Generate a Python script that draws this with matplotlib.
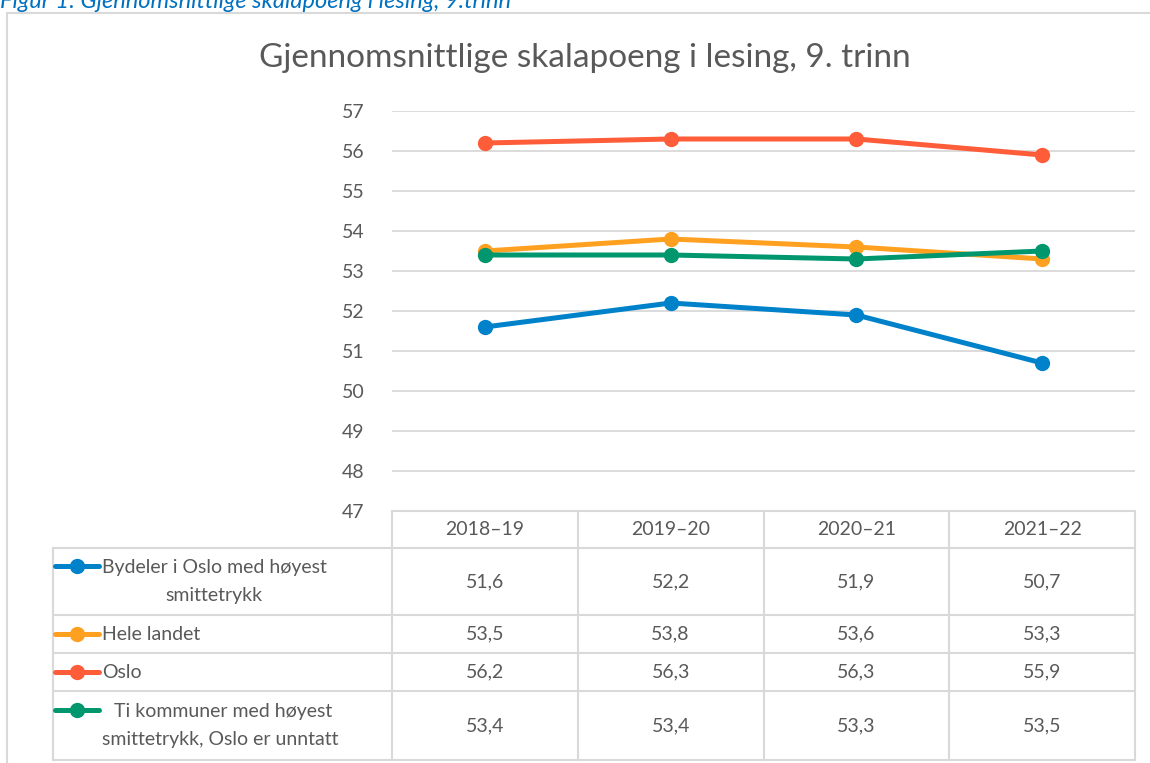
import matplotlib.pyplot as plt
from matplotlib.lines import Line2D
from matplotlib.patches import Rectangle

plt.rcParams['font.family'] = ['Lato', 'DejaVu Sans']

# data
years = ['2018–19', '2019–20', '2020–21', '2021–22']
series = [
    'Bydeler i Oslo med høyest\nsmittetrykk',
    'Hele landet',
    'Oslo',
    ' Ti kommuner med høyest\nsmittetrykk, Oslo er unntatt',
]
bydeler = [51.6, 52.2, 51.9, 50.7]
hele_landet = [53.5, 53.8, 53.6, 53.3]
oslo = [56.2, 56.3, 56.3, 55.9]
ti_kommuner = [53.4, 53.4, 53.3, 53.5]
values = [bydeler, hele_landet, oslo, ti_kommuner]
colors = ['#0082CA', '#FFA021', '#FF5C39', '#00976F']

W, H = 1150, 763
TXT = '#595959'
GRID = '#D9D9D9'


def fx(x):
    return x / W


def fy(y):
    return 1 - y / H


fig = plt.figure(figsize=(W / 100, H / 100), dpi=100)

# caption above the chart box (cut off at the top in the original)
fig.text(fx(0), fy(2), 'Figur 1: Gjennomsnittlige skalapoeng i lesing, 9.trinn',
         color='#0070C0', style='italic', fontsize=17, ha='left', va='center')

# chart border
fig.add_artist(Rectangle((fx(7), fy(800)), fx(1160), fy(13) - fy(800),
                         transform=fig.transFigure, fill=False, ec=GRID, lw=1.5))

fig.text(fx(585), fy(58), 'Gjennomsnittlige skalapoeng i lesing, 9. trinn',
         color=TXT, fontsize=24, ha='center', va='center')

left, right, top, bottom = 392, 1135, 111, 511
ax = fig.add_axes([fx(left), fy(bottom), fx(right - left), fy(top) - fy(bottom)])
x = list(range(len(years)))
for vals, c in zip(values, colors):
    ax.plot(x, vals, color=c, lw=3.6, marker='o', markersize=10, solid_capstyle='round')

ax.set_xlim(-0.5, len(years) - 0.5)
ax.set_ylim(47, 57)
ax.set_yticks(range(47, 58))
ax.set_xticks([])
ax.tick_params(axis='y', length=0, pad=20, labelsize=14, labelcolor=TXT)
ax.grid(axis='y', color=GRID, lw=1.3)
ax.set_axisbelow(True)
for s in ax.spines.values():
    s.set_visible(False)

# data table under the plot
col_w = (right - left) / len(years)
row_edges = [511, 548, 615, 653, 691, 760]
lab_left = 53


def hline(x0, x1, y):
    fig.add_artist(Line2D([fx(x0), fx(x1)], [fy(y), fy(y)], color=GRID, lw=1.5,
                          transform=fig.transFigure))


def vline(x, y0, y1):
    fig.add_artist(Line2D([fx(x), fx(x)], [fy(y0), fy(y1)], color=GRID, lw=1.5,
                          transform=fig.transFigure))


hline(left, right, row_edges[0])
for y in row_edges[1:]:
    hline(lab_left, right, y)
for i in range(len(years) + 1):
    vline(left + i * col_w, row_edges[0], row_edges[-1])
vline(lab_left, row_edges[1], row_edges[-1])

for i, yr in enumerate(years):
    fig.text(fx(left + (i + 0.5) * col_w), fy((row_edges[0] + row_edges[1]) / 2), yr,
             color=TXT, fontsize=14, ha='center', va='center')

for r, (name, vals, c) in enumerate(zip(series, values, colors)):
    y0, y1 = row_edges[r + 1], row_edges[r + 2]
    ym = (y0 + y1) / 2
    two_lines = '\n' in name
    key_y = ym - 16 if two_lines else ym
    fig.add_artist(Line2D([fx(55), fx(99)], [fy(key_y), fy(key_y)], color=c, lw=3.6,
                          solid_capstyle='round', transform=fig.transFigure))
    fig.add_artist(Line2D([fx(77)], [fy(key_y)], color=c, marker='o', markersize=10,
                          transform=fig.transFigure))
    fig.text(fx(102), fy(ym), name, color=TXT, fontsize=14, ha='left', va='center',
             multialignment='center', linespacing=1.85)
    for i, v in enumerate(vals):
        fig.text(fx(left + (i + 0.5) * col_w), fy(ym), f'{v:.1f}'.replace('.', ','),
                 color=TXT, fontsize=14, ha='center', va='center')

fig.savefig('out.png', dpi=100)
